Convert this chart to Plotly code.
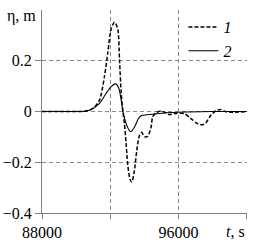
import plotly.graph_objects as go

# Series 1 (dashed)
t1 = [88000, 89000, 90000, 90500, 90990, 91370, 91660, 91855, 92050, 92245, 92440,
      92540, 92640, 92730, 92830, 92930, 93020, 93160, 93260, 93410, 93550, 93705,
      93840, 93995, 94190, 94390, 94480, 94680, 94970, 95265, 95460, 95850, 96335,
      96725, 97110, 97400, 97600, 97890, 98185, 98475, 98770, 99200, 100000]
eta1 = [0.0, 0.0, 0.0, 0.001, 0.012, 0.045, 0.138, 0.232, 0.325, 0.352, 0.325,
        0.205, 0.073, 0.005, -0.048, -0.128, -0.208, -0.268, -0.278, -0.235, -0.155, -0.095,
        -0.082, -0.099, -0.098, -0.062, -0.022, -0.005, 0.002, -0.006, -0.012, -0.008, -0.008,
        -0.028, -0.048, -0.052, -0.045, -0.015, 0.003, 0.008, -0.001, -0.003, 0.0]

# Series 2 (solid)
t2 = [88000, 89000, 90000, 90500, 90785, 91370, 91760, 92050, 92300, 92500, 92640,
      92730, 92930, 93120, 93220, 93410, 93705, 93900, 94480, 95265, 96500, 98000, 100000]
eta2 = [0.0, 0.0, 0.0, 0.001, 0.005, 0.032, 0.072, 0.098, 0.109, 0.092, 0.045,
        0.005, -0.048, -0.075, -0.079, -0.062, -0.022, -0.015, -0.011, -0.005, -0.002, 0.0, 0.0]

x_tickvals = [88000, 92000, 96000, 100000]
x_ticktext = ["88000", "", "96000", ""]
y_tickvals = [-0.4, -0.2, 0, 0.2]
y_ticktext = ["\u22120.4", "\u22120.2", "0", "0.2"]

FONT = "Liberation Serif, Times New Roman, DejaVu Serif, serif"

fig = go.Figure()
fig.add_trace(go.Scatter(x=t1, y=eta1, mode="lines", name="<i>1</i>",
                         line=dict(color="black", width=1.5, dash="4px,2px",
                                   shape="spline", smoothing=0.7)))
fig.add_trace(go.Scatter(x=t2, y=eta2, mode="lines", name="<i>2</i>",
                         line=dict(color="black", width=1.1,
                                   shape="spline", smoothing=0.7)))

fig.update_layout(
    width=266, height=243,
    margin=dict(l=42, r=19, t=10, b=30),
    paper_bgcolor="white", plot_bgcolor="white",
    font=dict(family=FONT, size=16, color="black"),
    showlegend=True,
    legend=dict(x=0.69, y=1.0, xanchor="left", yanchor="top",
                bgcolor="rgba(0,0,0,0)", itemwidth=30,
                font=dict(family=FONT, size=16), tracegroupgap=0),
    xaxis=dict(range=[88000, 100010], tickvals=x_tickvals, ticktext=x_ticktext,
               showgrid=True, gridcolor="#8a8a8a", gridwidth=1, griddash="4px,3px",
               showline=True, linecolor="#808080", linewidth=1,
               ticks="outside", ticklen=5, tickcolor="#808080", automargin=False,
               zeroline=False, tickfont=dict(family=FONT, size=16)),
    yaxis=dict(range=[-0.4, 0.4], tickvals=y_tickvals, ticktext=y_ticktext,
               showgrid=True, gridcolor="#8a8a8a", gridwidth=1, griddash="4px,3px",
               showline=True, linecolor="#808080", linewidth=1,
               ticks="outside", ticklen=6, tickcolor="#808080", automargin=False,
               zeroline=False, tickfont=dict(family=FONT, size=16)),
    annotations=[
        dict(text="\u03b7, m", x=0, y=1, xref="paper", yref="paper",
             xanchor="right", yanchor="middle", xshift=-4, yshift=-6,
             showarrow=False, font=dict(family=FONT, size=16)),
        dict(text="<i>t</i>, s", x=1, y=0, xref="paper", yref="paper",
             xanchor="right", yanchor="top", yshift=-8, xshift=0,
             showarrow=False, font=dict(family=FONT, size=16)),
    ],
)

fig.write_html("out.html", post_script="document.body.style.margin='0px';",
               config={"displayModeBar": False})
